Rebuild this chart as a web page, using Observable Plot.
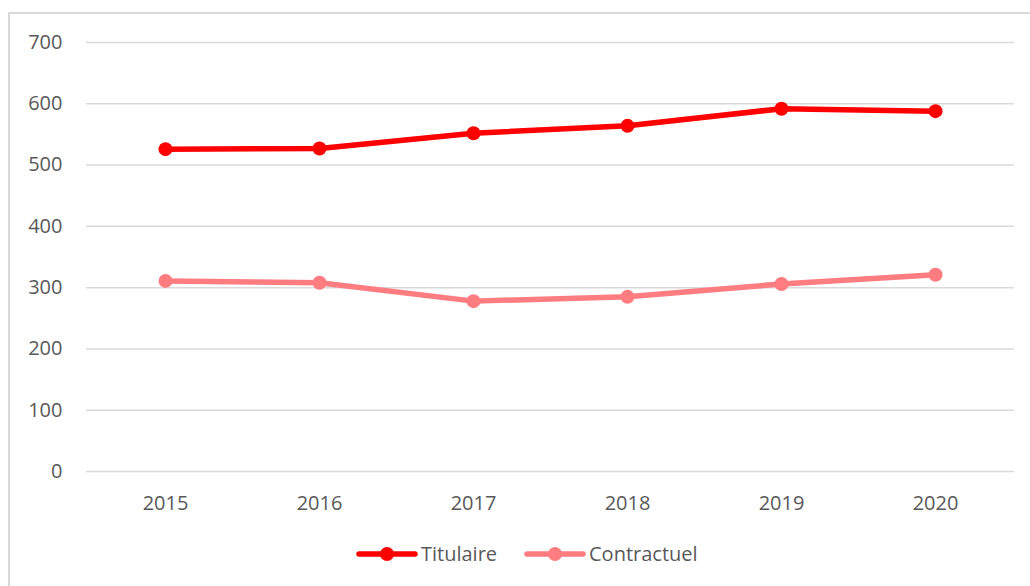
<!DOCTYPE html>
<html>
<head>
<meta charset="utf-8">
<script src="https://cdn.jsdelivr.net/npm/d3@7"></script>
<script src="https://cdn.jsdelivr.net/npm/@observablehq/plot@0.6"></script>
<style>
  html, body { margin: 0; padding: 0; background: #fff; }
  #wrap { position: relative; width: 1030px; height: 586px; overflow: hidden; font-family: "Open Sans", sans-serif; }
  #frame { position: absolute; left: 8px; top: 12px; width: 1040px; height: 600px; border: 2px solid #d9d9d9; box-sizing: border-box; }
  #chart { position: absolute; left: 0; top: 0; }
</style>
</head>
<body>
<div id="wrap"><div id="frame"></div><div id="chart"></div></div>
<script>
const years = ["2015", "2016", "2017", "2018", "2019", "2020"];
const titulaire = [526, 527, 552, 564, 592, 588];
const contractuel = [311, 308, 278, 285, 306, 321];
const seriesNames = ["Titulaire", "Contractuel"];
const seriesColors = ["#ff0000", "#ff7c80"];
const yTicks = [0, 100, 200, 300, 400, 500, 600, 700];

const data = [];
years.forEach((y, i) => {
  data.push({year: y, value: titulaire[i], series: seriesNames[0]});
  data.push({year: y, value: contractuel[i], series: seriesNames[1]});
});

const plot = Plot.plot({
  width: 1030,
  height: 586,
  marginLeft: 86,
  marginRight: 16,
  marginTop: 42,
  marginBottom: 115,
  style: {fontFamily: "'Open Sans', sans-serif", fontSize: "20px", color: "#595959", background: "transparent"},
  x: {type: "point", domain: years, padding: 0.5, label: null},
  y: {domain: [0, 700], label: null},
  color: {domain: seriesNames, range: seriesColors},
  marks: [
    Plot.ruleY(yTicks, {stroke: "#d9d9d9", strokeWidth: 1.5}),
    Plot.axisY({ticks: yTicks, tickSize: 0, tickPadding: 24, fill: "#595959", fontSize: 20, label: null}),
    Plot.axisX({tickSize: 0, tickPadding: 24, fill: "#595959", fontSize: 20, label: null}),
    Plot.line(data, {x: "year", y: "value", z: "series", stroke: "series", strokeWidth: 5.5, strokeLinejoin: "round", strokeLinecap: "round"}),
    Plot.dot(data, {x: "year", y: "value", fill: "series", r: 7})
  ]
});
document.getElementById("chart").appendChild(plot);

// Legend below the plot area
const svg = d3.select(plot);
const legend = svg.append("g")
  .attr("font-family", "'Open Sans', sans-serif")
  .attr("font-size", 20)
  .attr("fill", "#595959")
  .attr("text-anchor", "start");
const legendItems = [
  {name: seriesNames[0], color: seriesColors[0], x0: 359},
  {name: seriesNames[1], color: seriesColors[1], x0: 527}
];
const ly = 554;
legendItems.forEach(d => {
  legend.append("line").attr("x1", d.x0).attr("x2", d.x0 + 56).attr("y1", ly).attr("y2", ly)
    .attr("stroke", d.color).attr("stroke-width", 5.5).attr("stroke-linecap", "round");
  legend.append("circle").attr("cx", d.x0 + 28).attr("cy", ly).attr("r", 7).attr("fill", d.color);
  legend.append("text").attr("x", d.x0 + 62).attr("y", ly).attr("dy", "0.35em")
    .attr("text-anchor", "start").text(d.name);
});
</script>
</body>
</html>
